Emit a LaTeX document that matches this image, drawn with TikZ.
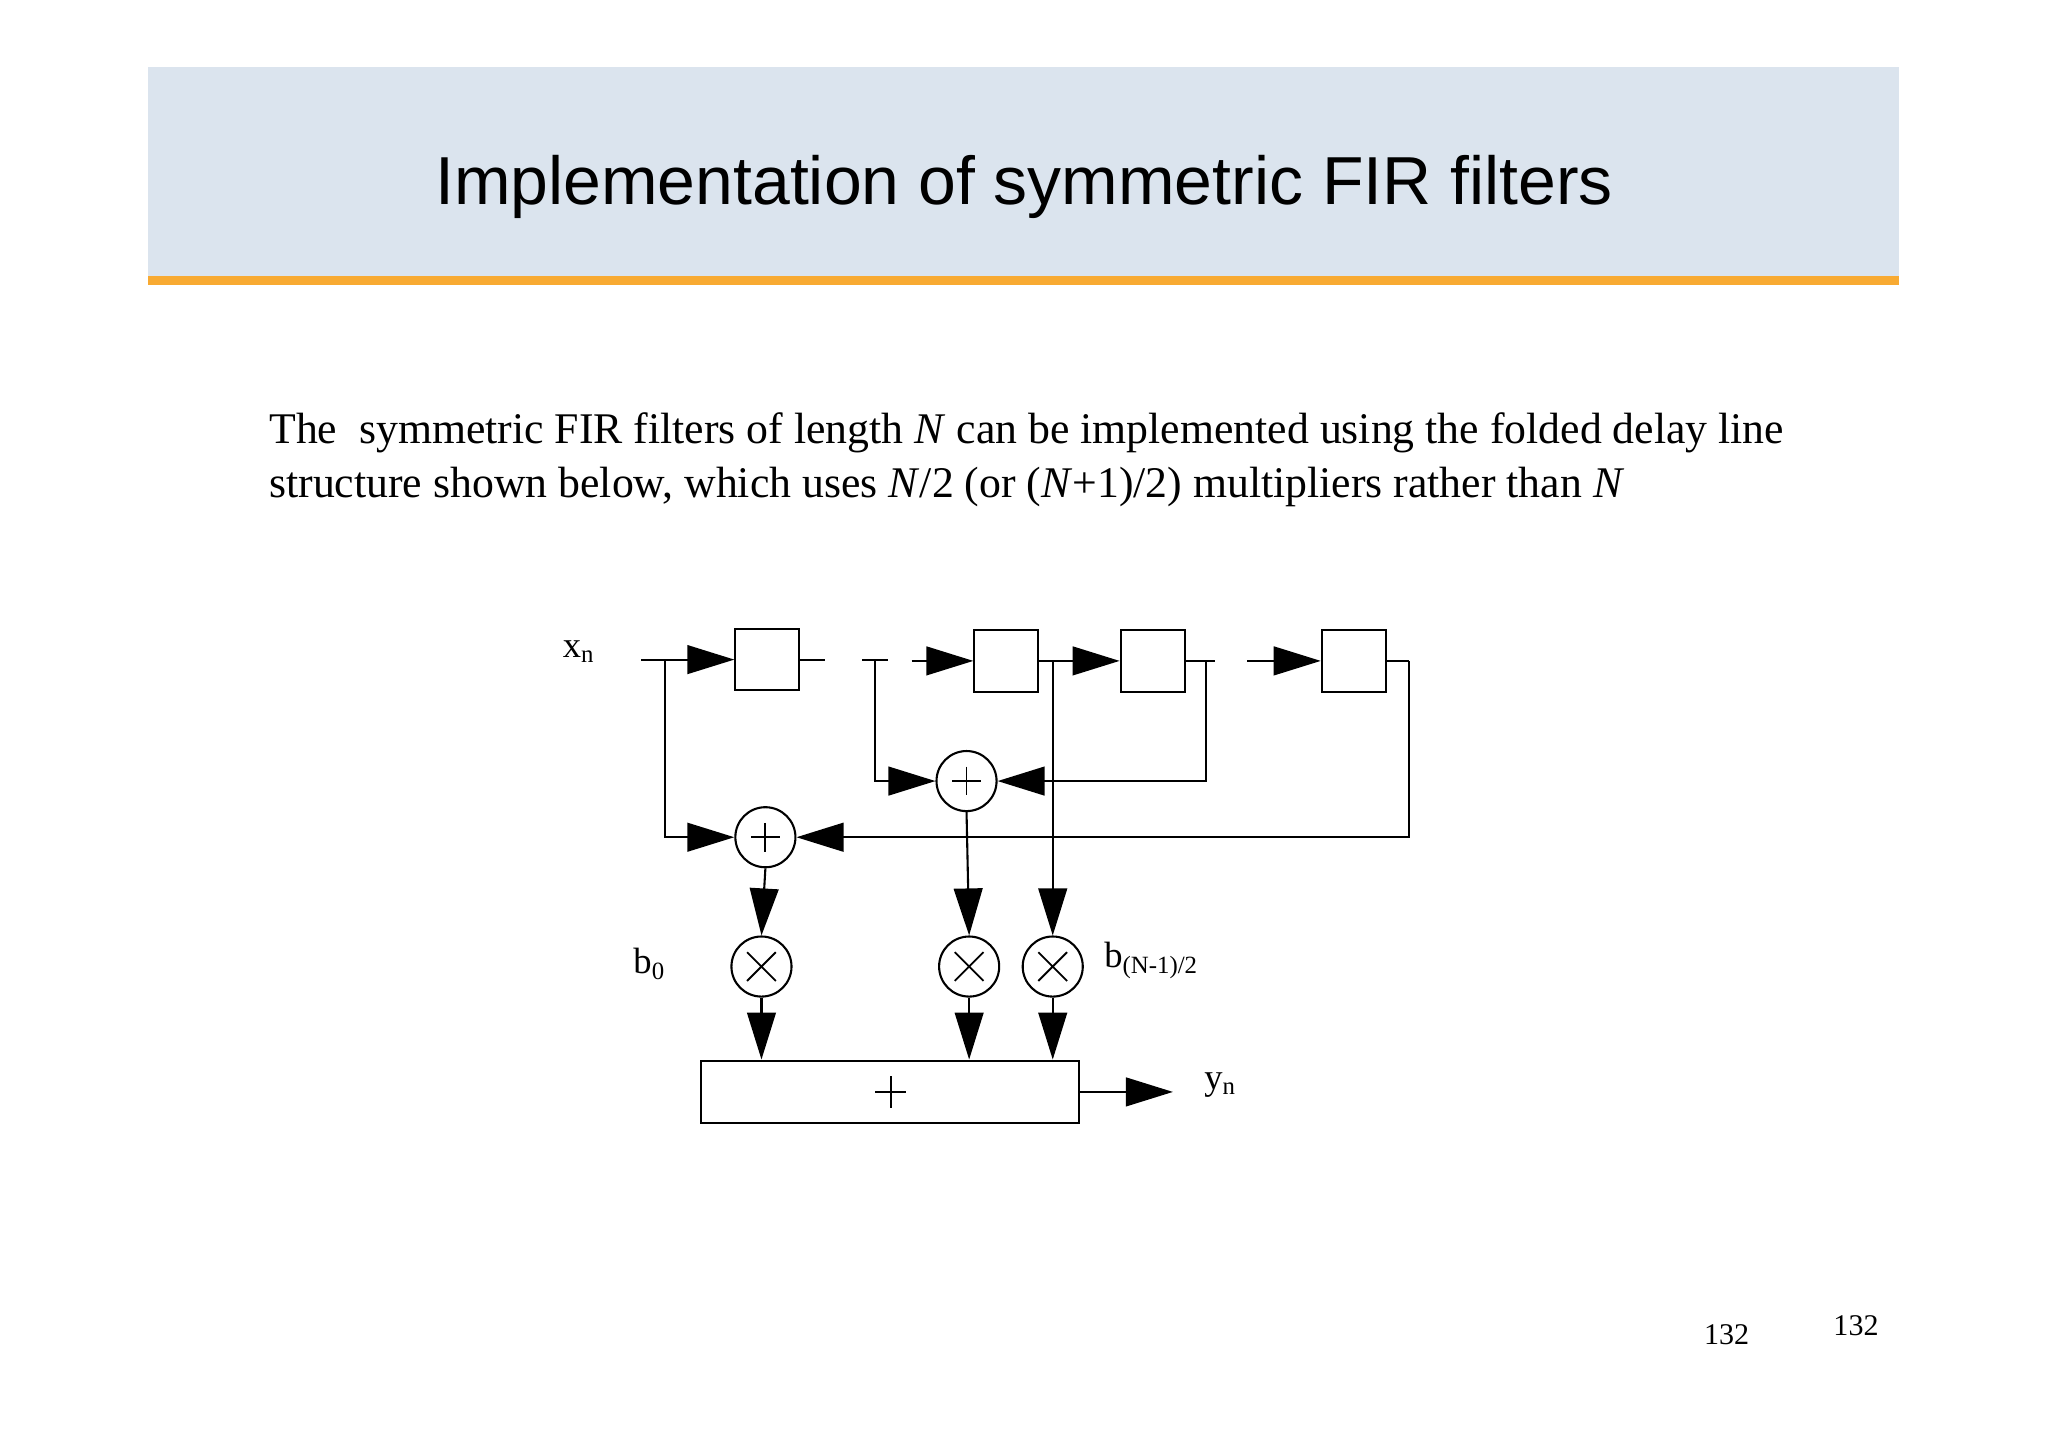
\documentclass[tikz,border=0pt]{standalone}
\usepackage{fontspec}
\setmainfont{Liberation Serif}
\newfontfamily\sans{Liberation Sans}
\usetikzlibrary{arrows.meta,calc}
\begin{document}
\begin{tikzpicture}[x=1pt,y=-1pt,
  w/.style={line width=1.6pt},
  a/.style={w,-{Triangle[length=36pt,width=22pt]}},
  dl/.style={draw,line width=1.6pt,minimum width=49pt,minimum height=47pt,inner sep=0pt},
  sumc/.style={draw,circle,line width=1.6pt,minimum size=46pt,inner sep=0pt},
  lab/.style={font=\fontsize{28}{32}\selectfont}]
\useasboundingbox (0,0) rectangle (1568,1108);
\fill[white] (0,0) rectangle (1568,1108);
\fill[fill={rgb,255:red,219;green,228;blue,238}] (113,51) rectangle (1454,211);
\fill[fill={rgb,255:red,248;green,170;blue,50}] (113,211) rectangle (1454,218);
\node[font=\sans\fontsize{52}{60}\selectfont] (title) at (784,143) {Implementation of symmetric FIR filters};
\node[anchor=north west,align=left,font=\fontsize{33.5}{41}\selectfont,inner sep=0pt] (body) at (206,316)
 {The\ \ symmetric FIR filters of length \textit{N} can be implemented using the folded delay line\\
  structure shown below, which uses \textit{N}/2 (or (\textit{N}+1)/2) multipliers rather than \textit{N}};
% delay boxes
\node[dl] (d1) at (587.5,505) {};
\node[dl] (d2) at (770.5,506) {};
\node[dl] (d3) at (882.5,506) {};
\node[dl] (d4) at (1036.5,506) {};
% adders
\node[sumc] (s2) at (740,598) {};
\draw[line width=1.4pt] (740,587)--(740,609) (729,598)--(751,598);
\node[sumc] (s1) at (586,641) {};
\draw[line width=1.4pt] (586,630)--(586,652) (575,641)--(597,641);
% multipliers
\foreach \n/\x in {m1/583,m2/742,m3/806}{
 \node[sumc] (\n) at (\x,740) {};
 \draw[line width=1.4pt] ($(\x,740)+(-11,-11)$)--($(\x,740)+(11,11)$) ($(\x,740)+(-11,11)$)--($(\x,740)+(11,-11)$);
}
\node[draw,line width=1.6pt,minimum width=289pt,minimum height=48pt,inner sep=0pt] (S) at (681.5,836) {};
\draw[line width=1.4pt] (670,836)--(694,836) (682,824)--(682,848);
% labels
\node[lab] (xn) at (443,499) {x\textsubscript{\fontsize{19}{21}\selectfont n}};
\node[lab] (b0) at (497,738) {b\textsubscript{\fontsize{19}{21}\selectfont 0}};
\node[lab,anchor=west] (bn) at (842,735) {b\textsubscript{\fontsize{19}{21}\selectfont (N-1)/2}};
\node[lab] (yn) at (934,831) {y\textsubscript{\fontsize{19}{21}\selectfont n}};
\node[font=\fontsize{23}{26}\selectfont] (p1) at (1322,1022) {132};
\node[font=\fontsize{23}{26}\selectfont] (p2) at (1421,1015) {132};
% connectors
\coordinate (i0) at (491,505);
\draw[a] (i0) -- (d1.west);
\draw[w] (d1.east) -- (632,505);
\draw[w] (660,505) -- (680,505);
\draw[a] (698,506) -- (d2.west);
\draw[a] (d2.east) -- (d3.west);
\draw[w] (d3.east) -- (930,506);
\draw[a] (955,506) -- (d4.west);
\draw[w] (d4.east) -- (1079,506);
\draw[a] (509,505) |- (s1.west);
\draw[a] (1079,506) |- (s1.east);
\draw[a] (670,505) |- (s2.west);
\draw[a] (923,506) |- (s2.east);
\draw[a] (806,506) -- (m3.north);
\draw[a] (s1.south) -- (m1.north);
\draw[a] (s2.south) -- (m2.north);
\draw[a] (m1.south) -- (m1.south |- S.north);
\draw[a] (m2.south) -- (m2.south |- S.north);
\draw[a] (m3.south) -- (m3.south |- S.north);
\draw[a] (S.east) -- (898,836);
\end{tikzpicture}
\end{document}
